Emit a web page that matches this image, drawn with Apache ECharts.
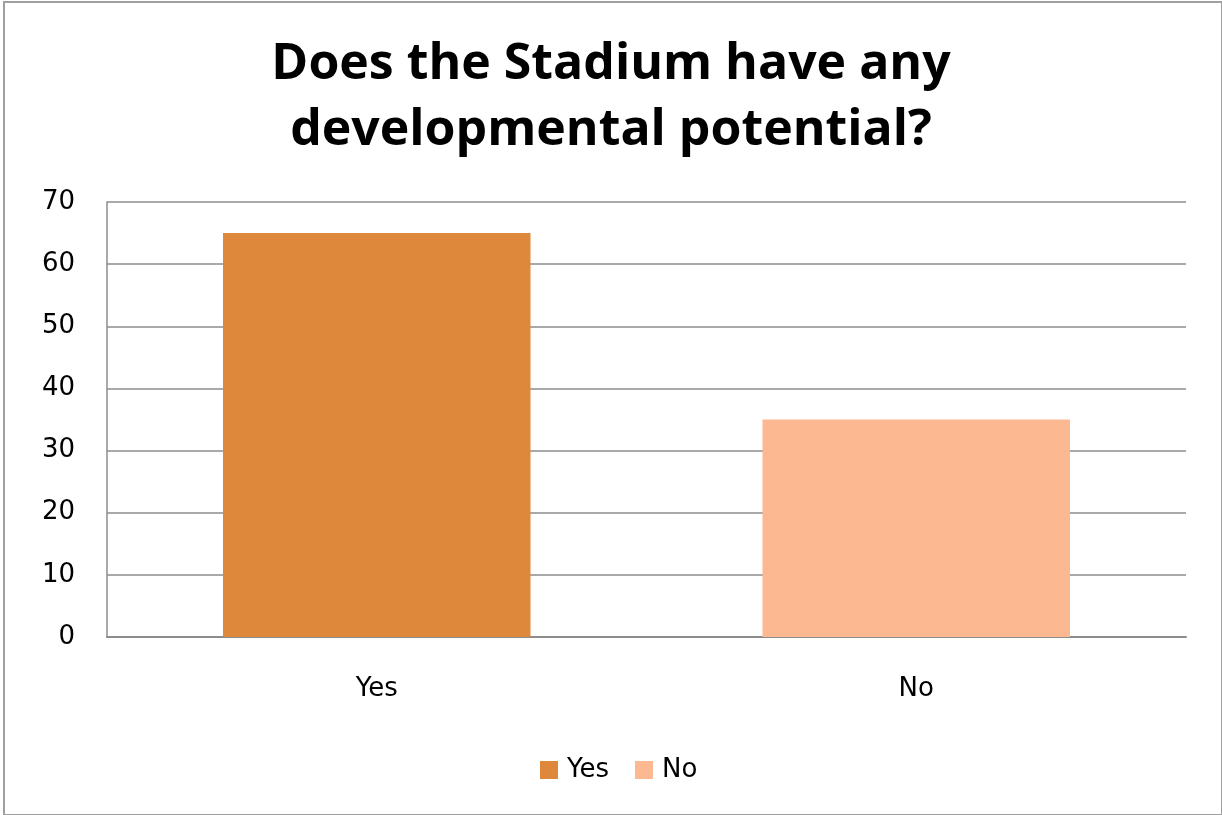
<!DOCTYPE html>
<html>
<head>
<meta charset="utf-8">
<script src="https://cdn.jsdelivr.net/npm/echarts@6/dist/echarts.min.js"></script>
<style>
html,body{margin:0;padding:0;background:#fff;}
#frame{position:absolute;left:3px;top:1px;width:1216px;height:811px;border:2px solid #a0a0a0;box-sizing:content-box;}
#chart{position:absolute;left:0;top:0;width:1222px;height:815px;}
</style>
</head>
<body>
<div id="frame"></div>
<div id="chart"></div>
<script>
const titleText = 'Does the Stadium have any\ndevelopmental potential?';
const categories = ['Yes', 'No'];
const seriesNames = ['Yes', 'No'];
const yesValues = [65, '-'];
const noValues = ['-', 35];
const yTicks = { min: 0, max: 70, interval: 10 };

const chart = echarts.init(document.getElementById('chart'), null, { renderer: 'canvas' });
chart.setOption({
  backgroundColor: 'transparent',
  animation: false,
  title: {
    text: titleText,
    left: 'center',
    top: 27,
    textStyle: { fontFamily: 'Open Sans', fontWeight: 'bold', fontSize: 50, color: '#000', lineHeight: 66 }
  },
  legend: {
    data: seriesNames,
    bottom: 27,
    left: 535,
    itemWidth: 18,
    itemHeight: 18,
    itemGap: 26,
    icon: 'rect',
    textStyle: { fontFamily: 'DejaVu Sans', fontSize: 26, color: '#000', padding: [0, 0, 0, 4] }
  },
  grid: { left: 107, right: 36, top: 202, bottom: 178, containLabel: false },
  xAxis: {
    type: 'category',
    data: categories,
    axisLine: { lineStyle: { color: '#8c8c8c', width: 2 } },
    axisTick: { show: false },
    axisLabel: { fontFamily: 'DejaVu Sans', fontSize: 26, color: '#000', margin: 39 }
  },
  yAxis: {
    type: 'value',
    min: yTicks.min, max: yTicks.max, interval: yTicks.interval,
    axisLine: { show: true, lineStyle: { color: '#8c8c8c', width: 1.5 } },
    axisTick: { show: false },
    splitLine: { lineStyle: { color: '#8c8c8c', width: 1.5 } },
    axisLabel: { fontFamily: 'DejaVu Sans', fontSize: 26, color: '#000', margin: 32 }
  },
  series: [
    { name: seriesNames[0], type: 'bar', stack: 'all', data: yesValues, barWidth: '57%', itemStyle: { color: '#DD883A' } },
    { name: seriesNames[1], type: 'bar', stack: 'all', data: noValues, barWidth: '57%', itemStyle: { color: '#FBB891' } }
  ]
});
</script>
</body>
</html>
